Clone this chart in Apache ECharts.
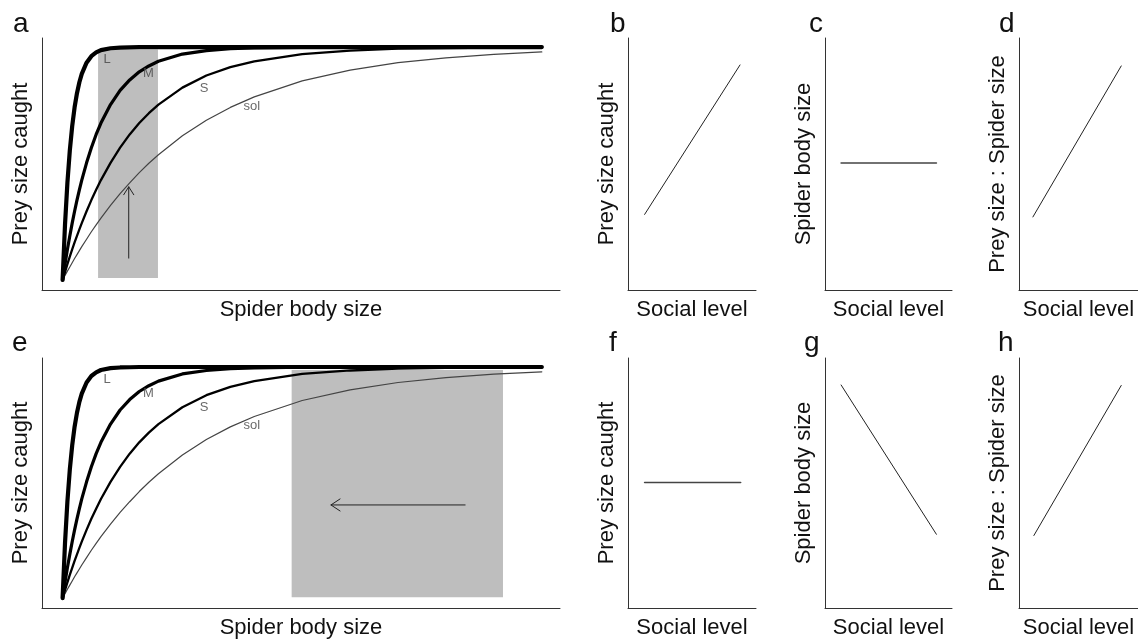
<!DOCTYPE html>
<html>
<head>
<meta charset="utf-8">
<script src="https://cdn.jsdelivr.net/npm/echarts@6/dist/echarts.min.js"></script>
<style>html,body{margin:0;padding:0;background:#fff}#c{width:1138px;height:640px}</style>
</head>
<body>
<div id="c"></div>
<script>
// ---- data ----
const curveX = [0,0.5,1,1.5,2,2.5,3,3.5,4,5,6,7,8,10,12,14,16,18,20,25,30,35,40,50,60,70,80,90,100];
const curveL = [0,23.7,41.7,55.5,66.0,74.1,80.2,84.9,88.5,93.3,96.1,97.7,98.7,99.5,99.8,99.9,100,100,100,100,100,100,100,100,100,100,100,100,100];
const curveM = [0,6.8,13.1,18.9,24.4,29.5,34.3,38.7,42.9,50.3,56.8,62.5,67.4,75.3,81.4,85.9,89.4,91.9,93.9,97.0,98.5,99.3,99.6,99.9,100,100,100,100,100];
const curveS = [0,3.4,6.8,10.0,13.1,16.1,18.9,21.7,24.4,29.5,34.3,38.7,42.9,50.3,56.8,62.5,67.4,71.6,75.3,82.6,87.8,91.4,93.9,97.0,98.5,99.3,99.6,99.8,99.9];
const curveSol = [0,1.9,3.8,5.6,7.4,9.2,10.9,12.6,14.3,17.5,20.7,23.7,26.6,32.0,37.1,41.7,46.1,50.1,53.8,61.9,68.6,74.1,78.6,85.5,90.1,93.3,95.4,96.9,97.9];
const curveLabels = [[9.3,94.8,'L'],[17.9,88.7,'M'],[29.5,82.4,'S'],[39.5,74.7,'sol']];
const shadeA = [[7.4,0.9,19.9,99.0]];
const shadeE = [[47.8,0.4,91.9,98.7]];
const arrowA = [[13.8,9.4],[13.8,40]];
const arrowHeadA = [[12.75,36.6],[13.8,40],[14.85,36.6]];
const arrowE = [[84,40.3],[56,40.3]];
const arrowHeadE = [[57.9,42.9],[56,40.3],[57.9,37.7]];
const lineB = [[13,30],[87.5,89.3]];
const lineC = [[12.7,50.4],[87.7,50.4]];
const lineD = [[11.7,29],[85.9,88.9]];
const lineF = [[13,50.2],[88,50.2]];
const lineG = [[12.7,89.2],[87.7,29.5]];
const lineH = [[12.5,29],[85.9,89]];
const panelLetters = ['a','b','c','d','e','f','g','h'];
const yNamesLeft = ['Prey size caught','Prey size caught'];
const xNameLeft = 'Spider body size';
const yNamesRight = ['Prey size caught','Spider body size','Prey size : Spider size','Prey size caught','Spider body size','Prey size : Spider size'];
const xNameRight = 'Social level';

// ---- layout ----
const FONT = '"Liberation Sans", Arial, sans-serif';
const grids = [
  {left:42, top:38, width:518, height:252},
  {left:42, top:358, width:518, height:251},
  {left:628, top:38, width:128, height:252},
  {left:825, top:38, width:127, height:252},
  {left:1019, top:38, width:128, height:252},
  {left:628, top:358, width:128, height:251},
  {left:825, top:358, width:127, height:251},
  {left:1019, top:358, width:128, height:251}
];
const nameStyle = {fontSize:22, color:'#111', fontFamily:FONT};
function axisBase(){
  return {type:'value', axisLine:{show:true, onZero:false, lineStyle:{color:'#333', width:1}},
    axisTick:{show:false}, axisLabel:{show:false}, splitLine:{show:false},
    nameLocation:'middle', nameTextStyle:nameStyle};
}
const xAxes = [], yAxes = [];
grids.forEach((g,i)=>{
  const left = i < 2;
  xAxes.push(Object.assign(axisBase(), {gridIndex:i, min:left?-4.3:0, max:left?103.8:100,
    name: left ? xNameLeft : xNameRight, nameGap:9}));
  yAxes.push(Object.assign(axisBase(), {gridIndex:i, min:left?-4.3:0, max:left?103.9:100,
    name: left ? yNamesLeft[i] : yNamesRight[i-2], nameGap:10}));
});

const letterPos = [[13,10],[610,10],[809,10],[999,10],[12,329],[609,329],[804,329],[998,329]];
const titles = panelLetters.map((t,i)=>({text:t, left:letterPos[i][0], top:letterPos[i][1], padding:0,
  textStyle:{fontSize:28, fontWeight:'normal', color:'#111', fontFamily:FONT}}));

function zip(xs, ys){ return xs.map((x,i)=>[x, ys[i]]); }
const series = [];
function shade(idx, data){
  series.push({type:'custom', xAxisIndex:idx, yAxisIndex:idx, z:1, silent:true,
    encode:{x:[0,2], y:[1,3]}, data:data,
    renderItem:function(params, api){
      const p0 = api.coord([api.value(0), api.value(1)]);
      const p1 = api.coord([api.value(2), api.value(3)]);
      return {type:'rect', shape:{x:p0[0], y:p1[1], width:p1[0]-p0[0], height:p0[1]-p1[1]}, style:{fill:'#bebebe'}};
    }});
}
function line(idx, data, width, color, z){
  series.push({type:'line', xAxisIndex:idx, yAxisIndex:idx, data:data, showSymbol:false, symbol:'none',
    smooth:false, z:z||3, silent:true,
    lineStyle:{width:width, color:color, cap:'round', join:'round'}});
}
[0,1].forEach(idx=>{
  shade(idx, idx===0?shadeA:shadeE);
  line(idx, zip(curveX, curveSol), 1.2, '#444', 3);
  line(idx, zip(curveX, curveS), 2.3, '#000', 4);
  line(idx, zip(curveX, curveM), 3.2, '#000', 5);
  line(idx, zip(curveX, curveL), 4.2, '#000', 6);
  series.push({type:'scatter', xAxisIndex:idx, yAxisIndex:idx, symbolSize:0, z:7, silent:true,
    data: curveLabels.map(d=>({value:[d[0],d[1]], name:d[2]})),
    label:{show:true, position:'inside', formatter:'{b}', fontSize:13, color:'#444', fontFamily:FONT}});
});
line(0, arrowA, 1, '#222', 7);
line(0, arrowHeadA, 1, '#222', 7);
line(1, arrowE, 1, '#222', 7);
line(1, arrowHeadE, 1, '#222', 7);
line(2, lineB, 1, '#222', 3);
line(3, lineC, 1.6, '#444', 3);
line(4, lineD, 1, '#222', 3);
line(5, lineF, 1.6, '#444', 3);
line(6, lineG, 1, '#222', 3);
line(7, lineH, 1, '#222', 3);

const chart = echarts.init(document.getElementById('c'), null, {renderer:'canvas'});
chart.setOption({
  animation:false,
  backgroundColor:'#fff',
  title: titles,
  grid: grids,
  xAxis: xAxes,
  yAxis: yAxes,
  series: series
});
</script>
</body>
</html>
